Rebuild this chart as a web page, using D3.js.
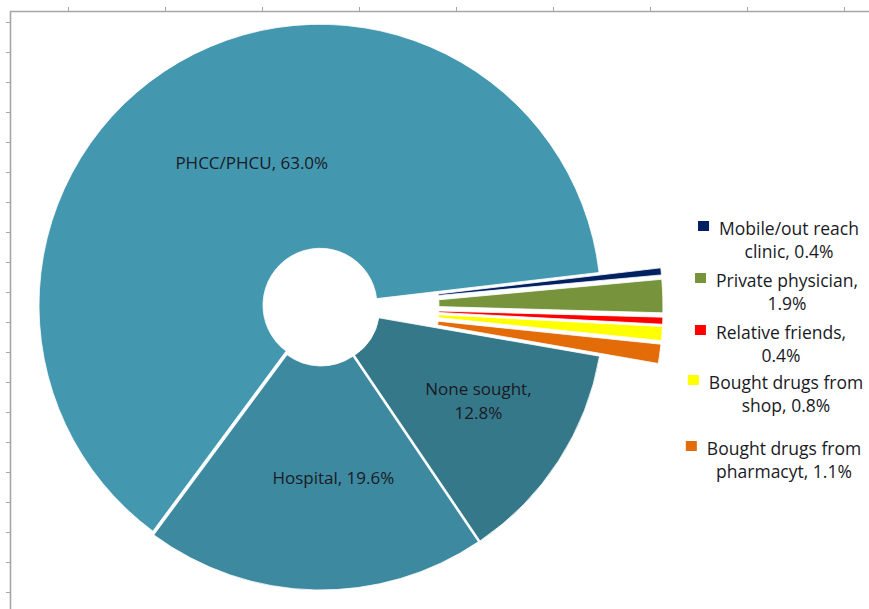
<!DOCTYPE html>
<html>
<head>
<meta charset="utf-8">
<script src="https://cdn.jsdelivr.net/npm/d3@7"></script>
<style>
  html, body { margin: 0; padding: 0; background: #fff; }
  svg { display: block; }
  text { font-family: "Open Sans", Lato, sans-serif; fill: #1a1a24; }
</style>
</head>
<body>
<svg id="chart" width="869" height="609"></svg>
<script>
// Source of care sought, in clockwise drawing order
const categories = [
  "Mobile/out reach clinic", "Private physician", "Relative friends",
  "Bought drugs from shop", "Bought drugs from pharmacyt",
  "None sought", "Hospital", "PHCC/PHCU"
];
const shares = [0.4, 1.9, 0.4, 0.8, 1.1, 12.8, 19.6, 63.0];
const colors = ["#002060", "#77933c", "#ff0000", "#ffff00", "#e36c09",
                "#35788a", "#3c89a0", "#4398b0"];
// Label text split into the first line and the prefix of the value line
const labelLine1 = ["Mobile/out reach", "Private physician,", "Relative friends,",
                    "Bought drugs from", "Bought drugs from",
                    "None sought,", "Hospital,", "PHCC/PHCU,"];
const labelLine2 = ["clinic, ", "", "", "shop, ", "pharmacyt, ", "", null, null];

const svg = d3.select("#chart");
const W = 869, H = 609;

// Sheet frame with ruler ticks
const frame = svg.append("g").attr("stroke", "#a6a6a6").attr("fill", "none");
frame.append("path").attr("d", `M10.5,${H} V11.5 H${W}`).attr("stroke-width", 1.6);
const topTicks = d3.range(68, W, 97);
frame.selectAll("line.tt").data(topTicks).join("line")
  .attr("x1", d => d + 0.5).attr("x2", d => d + 0.5)
  .attr("y1", 7).attr("y2", 11).attr("stroke-width", 1);
const leftTicks = d3.range(22, H, 30);
frame.selectAll("line.lt").data(leftTicks).join("line")
  .attr("x1", 6).attr("x2", 10)
  .attr("y1", d => d + 0.5).attr("y2", d => d + 0.5).attr("stroke-width", 1);

// Pie geometry
const cx = 321, cy = 307, rOuter = 281, rInner = 57;
const startDeg = 83.3;
const smallCount = 5;          // the first five slices are pulled out
const explodeSmall = 61, explodeMain = 2;

const pie = d3.pie().sort(null).value(d => d)
  .startAngle(startDeg * Math.PI / 180)
  .endAngle((startDeg + 360) * Math.PI / 180);
const arcs = pie(shares);
const arc = d3.arc().innerRadius(rInner).outerRadius(rOuter);

const g = svg.append("g").attr("transform", `translate(${cx},${cy})`);

g.selectAll("path.slice").data(arcs).join("path")
  .attr("class", "slice")
  .attr("d", arc)
  .attr("fill", (d, i) => colors[i])
  .attr("stroke", "#fff")
  .attr("stroke-width", 0.8)
  .attr("transform", (d, i) => {
    const mid = (d.startAngle + d.endAngle) / 2;
    const off = i < smallCount ? explodeSmall : explodeMain;
    return `translate(${off * Math.sin(mid)},${-off * Math.cos(mid)})`;
  });

// Labels inside the large slices
const fmt = v => v.toFixed(1) + "%";
const insideLayout = {   // radius along the slice bisector and a sideways nudge
  5: { r: 172, dx: 13, dy: 0, twoLines: true },
  6: { r: 171, dx: 16, dy: 0, twoLines: false },
  7: { r: 162, dx: 12, dy: -4, twoLines: false }
};
Object.keys(insideLayout).forEach(k => {
  const i = +k, L = insideLayout[k], d = arcs[i];
  const mid = (d.startAngle + d.endAngle) / 2;
  const x = L.r * Math.sin(mid) + L.dx, y = -L.r * Math.cos(mid) + L.dy;
  const t = g.append("text").attr("text-anchor", "middle")
    .attr("font-size", 17);
  if (L.twoLines) {
    t.append("tspan").attr("x", x).attr("y", y - 5).text(labelLine1[i]);
    t.append("tspan").attr("x", x).attr("y", y + 19).text(fmt(shares[i]));
  } else {
    t.attr("x", x).attr("y", y + 6).text(labelLine1[i] + " " + fmt(shares[i]));
  }
});

// Labels with colour keys beside the pulled-out slices
const outsideLayout = [   // text centre x and first baseline y
  { x: 789, y: 235 }, { x: 787, y: 287 }, { x: 781, y: 339 },
  { x: 786, y: 389 }, { x: 784, y: 455 }
];
const lineGap = 23;
outsideLayout.forEach((L, i) => {
  const t = svg.append("text").attr("text-anchor", "middle").attr("font-size", 17.5);
  const s1 = t.append("tspan").attr("x", L.x).attr("y", L.y).text(labelLine1[i]);
  t.append("tspan").attr("x", L.x).attr("y", L.y + lineGap)
    .text(labelLine2[i] + fmt(shares[i]));
  const w = s1.node().getComputedTextLength();
  svg.append("rect")
    .attr("x", L.x - w / 2 - 21).attr("y", L.y - 14)
    .attr("width", 11).attr("height", 10)
    .attr("fill", colors[i]);
});
</script>
</body>
</html>
